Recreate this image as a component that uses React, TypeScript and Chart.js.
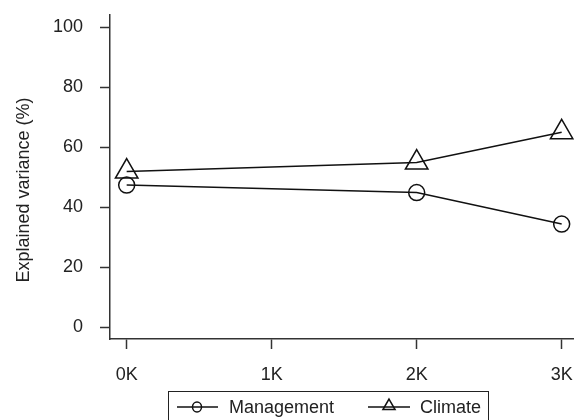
import React, { useEffect, useRef } from "react";
import { Chart, registerables } from "chart.js";

Chart.register(...registerables);

const xValues = [0, 2, 3];
const xTickValues = [0, 1, 2, 3];
const xTickLabels = ["0K", "1K", "2K", "3K"];
const yTickValues = [0, 20, 40, 60, 80, 100];
const management = [47.3, 44.8, 34.3];
const climate = [51.8, 54.8, 64.9];
const seriesLabels = ["Management", "Climate"];
const yTitle = "Explained variance (%)";

const FONT = '"Liberation Sans", Arial, sans-serif';
const INK = "#111";
const AXIS = "#333";

const extras = {
  id: "extras",
  afterDraw(chart: any) {
    const ctx = chart.ctx as CanvasRenderingContext2D;
    ctx.save();
    // y title
    ctx.fillStyle = "#222";
    ctx.font = `18px ${FONT}`;
    ctx.textAlign = "center";
    ctx.textBaseline = "middle";
    ctx.translate(24, 190);
    ctx.rotate(-Math.PI / 2);
    ctx.fillText(yTitle, 0, 0);
    ctx.restore();

    // legend
    ctx.save();
    ctx.strokeStyle = "#222";
    ctx.lineWidth = 1;
    ctx.strokeRect(168.5, 391.5, 320, 40);
    const cy = 407;
    ctx.lineWidth = 1.5;
    ctx.strokeStyle = INK;
    // management
    ctx.beginPath();
    ctx.moveTo(177, cy);
    ctx.lineTo(218, cy);
    ctx.stroke();
    ctx.beginPath();
    ctx.ellipse(197, cy, 4.5, 5, 0, 0, Math.PI * 2);
    ctx.stroke();
    // climate
    ctx.beginPath();
    ctx.moveTo(368, cy);
    ctx.lineTo(410, cy);
    ctx.stroke();
    const r = 7;
    const tx = 389;
    const ty = cy - 1;
    ctx.beginPath();
    for (let i = 0; i < 3; i++) {
      const a = (i * 2 * Math.PI) / 3;
      const px = tx + Math.sin(a) * r;
      const py = ty - Math.cos(a) * r;
      if (i === 0) ctx.moveTo(px, py);
      else ctx.lineTo(px, py);
    }
    ctx.closePath();
    ctx.stroke();
    ctx.fillStyle = "#222";
    ctx.font = `18px ${FONT}`;
    ctx.textAlign = "left";
    ctx.textBaseline = "middle";
    ctx.fillText(seriesLabels[0], 229, cy + 1);
    ctx.fillText(seriesLabels[1], 420, cy + 1);
    ctx.restore();
  },
};

export default function App() {
  const ref = useRef<HTMLCanvasElement>(null);
  useEffect(() => {
    document.body.style.margin = "0";
    const canvas = ref.current!;
    const chart = new Chart(canvas, {
      type: "line",
      data: {
        datasets: [
          {
            label: seriesLabels[0],
            data: xValues.map((x, i) => ({ x, y: management[i] })),
            borderColor: INK,
            borderWidth: 1.5,
            pointStyle: "circle",
            pointRadius: 8,
            pointBorderWidth: 1.5,
            pointBorderColor: INK,
            pointBackgroundColor: "transparent",
            tension: 0,
            clip: false as any,
          },
          {
            label: seriesLabels[1],
            data: xValues.map((x, i) => ({ x, y: climate[i] })),
            borderColor: INK,
            borderWidth: 1.5,
            pointStyle: "triangle",
            pointRadius: 13,
            pointBorderWidth: 1.5,
            pointBorderColor: INK,
            pointBackgroundColor: "transparent",
            tension: 0,
            clip: false as any,
          },
        ],
      },
      options: {
        animation: false,
        responsive: false,
        layout: { autoPadding: false, padding: { top: 15, right: 0, bottom: 0, left: 0 } },
        plugins: { legend: { display: false }, tooltip: { enabled: false } },
        scales: {
          x: {
            type: "linear",
            min: -0.115,
            max: 3.085,
            afterBuildTicks: (scale: any) => {
              scale.ticks = xTickValues.map((v) => ({ value: v }));
            },
            afterFit: (scale: any) => {
              scale.height = 81;
              scale.paddingLeft = 0;
              scale.paddingRight = 0;
            },
            ticks: {
              callback: (v: any) => xTickLabels[xTickValues.indexOf(Number(v))] ?? "",
              font: { family: FONT, size: 18 },
              color: "#222",
              padding: 15,
              maxRotation: 0,
              autoSkip: false,
            },
            grid: {
              drawOnChartArea: false,
              drawTicks: true,
              tickLength: 10,
              tickColor: AXIS,
              tickWidth: 1.5,
            },
            border: { display: true, color: AXIS, width: 1.5 },
          },
          y: {
            type: "linear",
            min: -4,
            max: 104,
            afterBuildTicks: (scale: any) => {
              scale.ticks = yTickValues.map((v) => ({ value: v }));
            },
            afterFit: (scale: any) => {
              scale.width = 110;
              scale.paddingTop = 0;
              scale.paddingBottom = 0;
            },
            ticks: {
              callback: (v: any) => String(v),
              font: { family: FONT, size: 18 },
              color: "#222",
              padding: 17,
              autoSkip: false,
            },
            grid: {
              drawOnChartArea: false,
              drawTicks: true,
              tickLength: 10,
              tickColor: AXIS,
              tickWidth: 1.5,
            },
            border: { display: true, color: AXIS, width: 1.5 },
          },
        },
      },
      plugins: [extras],
    });
    return () => chart.destroy();
  }, []);
  return <canvas ref={ref} width={574} height={420} style={{ display: "block" }} />;
}
